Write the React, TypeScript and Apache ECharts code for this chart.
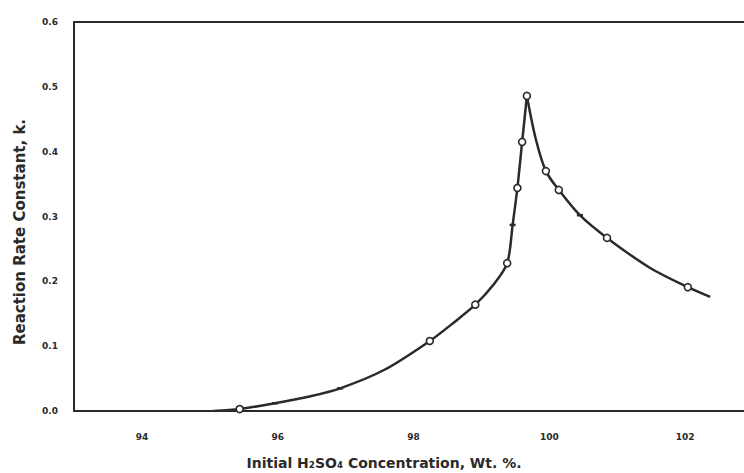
import React, { useEffect, useRef } from "react";
import * as echarts from "echarts";

// Curve (H2SO4 wt.% , k)
const leftBranchX = [95.05, 95.44, 95.96, 96.45, 96.92, 97.58, 98.24, 98.6, 98.91, 99.18, 99.38, 99.46, 99.53, 99.6, 99.67];
const leftBranchK = [0.0, 0.003, 0.012, 0.022, 0.035, 0.064, 0.108, 0.137, 0.164, 0.195, 0.228, 0.287, 0.344, 0.415, 0.486];
const rightBranchX = [99.67, 99.8, 99.95, 100.14, 100.45, 100.85, 101.48, 102.04, 102.37];
const rightBranchK = [0.486, 0.42, 0.37, 0.341, 0.302, 0.267, 0.221, 0.191, 0.176];

// Open-circle data points
const circleX = [95.44, 98.24, 98.91, 99.38, 99.53, 99.6, 99.67, 99.95, 100.14, 100.85, 102.04];
const circleK = [0.003, 0.108, 0.164, 0.228, 0.344, 0.415, 0.486, 0.37, 0.341, 0.267, 0.191];

// Small tick-mark data points
const tickX = [95.96, 96.92, 99.46, 100.45];
const tickK = [0.012, 0.035, 0.287, 0.302];

const xTickLabels = [94, 96, 98, 100, 102];
const yTickLabels = ["0.0", "0.1", "0.2", "0.3", "0.4", "0.5", "0.6"];

const yTitle = "Reaction Rate Constant, k.";
const xTitle = "Initial H\u2082SO\u2084 Concentration, Wt. %.";

const zip = (xs: number[], ys: number[]) => xs.map((x, i) => [x, ys[i]]);

export default function App() {
  const ref = useRef<HTMLDivElement>(null);
  useEffect(() => {
    if (!ref.current) return;
    const chart = echarts.init(ref.current, undefined, { renderer: "svg" });
    const ink = "#2a2a2a";
    const font = "DejaVu Sans";
    chart.setOption({
      animation: false,
      backgroundColor: "#ffffff",
      grid: {
        left: 74,
        top: 22,
        width: 679,
        height: 389,
        outerBoundsMode: "none",
        containLabel: false,
        show: false,
      },
      xAxis: [
        {
          type: "value",
          min: 93,
          max: 103,
          interval: 1,
          axisLine: { show: true, lineStyle: { color: ink, width: 2 } },
          axisTick: { show: false },
          splitLine: { show: false },
          axisLabel: {
            margin: 21,
            color: ink,
            fontFamily: font,
            fontWeight: "bold",
            fontSize: 9,
            formatter: (v: number) => (xTickLabels.indexOf(v) >= 0 ? String(v) : ""),
          },
        },
        {
          type: "value",
          position: "top",
          min: 93,
          max: 103,
          interval: 1,
          axisLine: { show: true, onZero: false, lineStyle: { color: ink, width: 2 } },
          axisTick: { show: false },
          axisLabel: { show: false },
          splitLine: { show: false },
        },
      ],
      yAxis: {
        type: "value",
        min: 0,
        max: 0.6,
        interval: 0.1,
        axisLine: { show: true, lineStyle: { color: ink, width: 2 } },
        axisTick: { show: false },
        splitLine: { show: false },
        axisLabel: {
          margin: 16,
          color: ink,
          fontFamily: font,
          fontWeight: "bold",
          fontSize: 9,
          formatter: (v: number) => yTickLabels[Math.round(v * 10)] ?? "",
        },
      },
      graphic: [
        {
          type: "text",
          x: 20,
          y: 232,
          rotation: Math.PI / 2,
          style: {
            text: yTitle,
            fill: ink,
            font: `bold 15px "${font}"`,
            align: "center",
            verticalAlign: "middle",
          },
        },
        {
          type: "text",
          x: 384,
          y: 463,
          style: {
            text: xTitle,
            fill: ink,
            font: `bold 14px "${font}"`,
            align: "center",
            verticalAlign: "middle",
          },
        },
      ],
      series: [
        {
          type: "line",
          data: zip(leftBranchX, leftBranchK),
          smooth: 0.3,
          showSymbol: false,
          lineStyle: { color: ink, width: 2.5 },
          z: 2,
        },
        {
          type: "line",
          data: zip(rightBranchX, rightBranchK),
          smooth: 0.3,
          showSymbol: false,
          lineStyle: { color: ink, width: 2.5 },
          z: 2,
        },
        {
          type: "scatter",
          data: zip(circleX, circleK),
          symbol: "circle",
          symbolSize: 7,
          itemStyle: { color: "#ffffff", borderColor: ink, borderWidth: 1.6, opacity: 1 },
          z: 3,
        },
        {
          type: "scatter",
          data: zip(tickX, tickK),
          symbol: "rect",
          symbolSize: [6, 2.5],
          itemStyle: { color: ink, opacity: 1 },
          z: 3,
        },
      ],
    });
    return () => chart.dispose();
  }, []);
  return (
    <div
      ref={ref}
      style={{ position: "fixed", left: 0, top: 0, width: 744, height: 473, background: "#fff" }}
    />
  );
}
